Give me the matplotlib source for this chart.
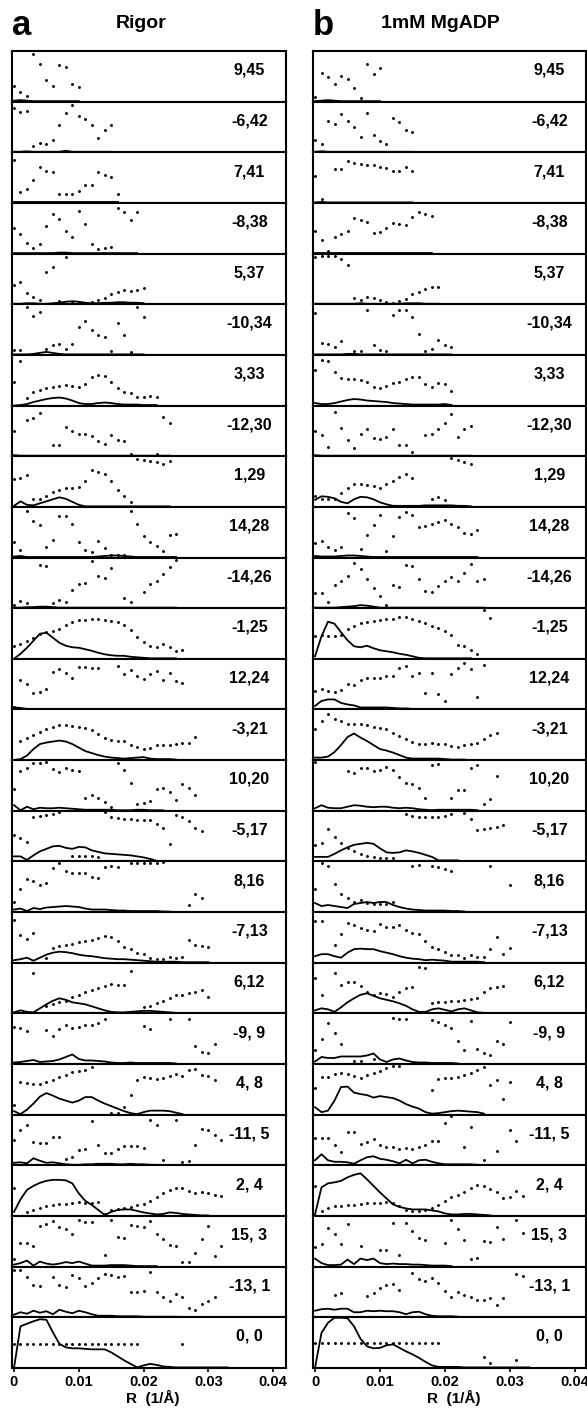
import numpy as np
import matplotlib.pyplot as plt

plt.rcParams['font.family'] = ['Liberation Sans', 'DejaVu Sans']

# sampled R values are spaced by this step (1/Å); values are % of panel height
R_STEP = 0.001

labels = ["9,45", "-6,42", "7,41", "-8,38", "5,37", "-10,34", "3,33", "-12,30",
          "1,29", "14,28", "-14,26", "-1,25", "12,24", "-3,21", "10,20", "-5,17",
          "8,16", "-7,13", "6,12", "-9, 9", "4, 8", "-11, 5", "2, 4", "15, 3",
          "-13, 1", "0, 0"]

# ---- a: Rigor ----
phase_a = [
    [31, 20, 11, 95, 75, 43, 32, 74, 70, 36, 30],
    [88, 80, 82, 12, 19, 16, 25, 54, 78, 95, 72, 66, 55, 28, 45, 55],
    [85, 22, 28, 45, 72, 64, 62, 18, 18, 18, 24, 36, 35, 62, 56, 52, 18],
    [52, 40, 22, 12, 20, 55, 79, 68, 45, 33, 84, 60, 20, 10, 11, 13, 90, 82, 67, 82],
    [39, 45, 23, 15, 9, 64, 75, 6, 95, 4, 3, 3, 4, 8, 13, 21, 25, 28, 27, 28, 33],
    [10, 9, 95, 77, 86, 12, 20, 21, 11, 22, 55, 68, 50, 39, 35, 7, 64, 40, 5, 95, 75],
    [47, 89, 16, 27, 32, 34, 36, 38, 40, 39, 37, 43, 57, 61, 58, 47, 35, 28, 26, 18, 17, 19, 18],
    [50, None, 72, 76, 86, None, 22, 23, 58, 50, 45, 45, 40, 30, 25, 42, 32, 30, 5, None, None, None, 4, 78, 66],
    [55, 58, 63, 15, 16, 22, 30, 34, 37, 38, 40, 51, 73, 70, 66, 51, 34, 22, 10, 96, 93, 91, 89, 86, 91],
    [31, 15, 93, 72, 65, 20, 35, 83, 82, 67, 30, 14, 10, 33, 18, 5, 4, 5, 93, 66, 42, 30, 22, 12, 45, 46],
    [7, 15, 10, None, 87, 85, 10, 17, 12, 36, 48, 50, 95, 65, 60, 80, None, 20, 12, None, 33, 48, 54, 68, 82, 97],
    [25, 30, 35, 42, 49, 53, 56, 59, 67, 74, 77, 78, 80, 79, 77, 76, 73, 68, 57, 44, 33, 25, 24, 30, 23, 16, 17],
    [4, 58, 50, 32, 35, 40, 75, 80, 73, 62, 84, 85, 83, 83, None, None, 86, 70, 78, 66, 60, 70, 76, 59, 72, 57, 52],
    [None, 38, 45, 51, 57, 62, 67, 69, 69, 68, 66, 65, 60, 52, 45, 40, 38, 38, 30, 26, 23, 25, 30, 30, 30, 32, 34, 34, 47],
    [44, 80, 85, 95, 95, 97, 84, 78, 86, 82, 80, 25, 32, 25, 17, 8, 95, 82, 55, 13, 16, 19, 44, 45, 37, 21, 54, 46, 32],
    [52, 47, 38, 88, 90, 92, 95, 98, None, 10, 11, 10, 10, 9, 98, 89, 86, 85, 85, 83, 82, 83, 75, 66, 35, 92, 88, 80, 66, 60],
    [21, 45, 66, 62, 53, 58, 87, 97, 82, 77, 78, 77, 70, 67, 90, 91, 90, None, 98, 97, 97, 97, 97, 99, None, None, None, 15, 35, 28],
    [85, 55, 48, 60, None, 10, 30, 33, 35, 38, 41, 43, 45, 49, 54, 52, 43, 32, 27, 20, 17, 10, 7, 8, 11, 9, 12, 45, 35, 33, 31],
    [None, None, None, 80, None, 15, 18, 22, 25, 32, 37, 43, 47, 50, 55, 58, 57, 56, 84, None, 12, 15, 20, 25, 30, 37, 36, 40, 43, 46, 32],
    [73, 72, 65, None, None, 67, 55, 70, 77, 72, 74, 78, 78, 82, 90, None, None, None, None, None, 75, 70, None, None, 89, None, None, 89, 35, 24, 21, 40],
    [20, 65, 63, 61, 62, 65, 70, 75, 80, 85, 87, 90, 95, None, None, 4, 3, 15, 40, 70, 75, 74, 72, 74, 77, 82, 78, 89, 91, 80, 77, 70],
    [51, 70, 80, 47, 45, 45, 57, 57, 13, 16, 30, 32, 88, 40, 24, 24, 32, 39, 38, 38, 35, 90, 80, 11, None, 90, 6, 8, 40, 72, 70, 60, 51],
    [56, None, 7, 12, 16, 20, 21, 23, 24, 25, 27, 26, 25, 28, 3, 11, 13, 15, 18, 21, 23, 30, 38, 46, 51, 56, 55, 49, 45, 47, 46, 41, 39],
    [15, 47, 48, 42, 80, 84, 90, 78, 74, 66, 93, 88, 88, None, 23, 93, 60, 58, 82, 80, 78, 90, 65, 56, 43, 41, 10, 10, 28, 55, 80, 21, 41],
    [94, 94, 80, 65, 62, None, 80, 65, 60, 84, 78, 62, 68, 78, 86, 85, 80, 83, 50, 51, 52, 91, 50, 40, 32, 47, 40, 18, 15, 26, 32, 40],
    [48, 48, 48, 48, 48, 48, 48, 48, 48, 48, 48, 48, 48, 48, 48, 48, 48, 48, 48, 48, None, None, None, None, None, None, 48],
]

amp_a = [
    [2, 3, 2, 1, 1, 1, 1, 1, 1, 1, 1],
    [1, 1, 2, 1, 1, 1, 1, 1, 3, 1, 1, 1, 1, 1, 1, 1],
    [1, 1, 1, 1, 1, 1, 1, 1, 1, 1, 1, 1, 1, 1, 1, 1, 1],
    [1, 1, 1, 1, 1, 1, 1, 2, 2, 1, 1, 1, 1, 1, 1, 1, 1, 1, 1, 1],
    [1, 1, 2, 2, 1, 1, 2, 3, 5, 6, 5, 3, 2, 2, 3, 3, 4, 4, 3, 3, 2],
    [1, 1, 1, 2, 4, 6, 4, 2, 1, 1, 1, 1, 1, 1, 1, 1, 1, 1, 1, 1, 1],
    [0, 1, 3, 7, 10, 13, 15, 16, 14, 10, 5, 3, 3, 5, 6, 5, 3, 2, 2, 2, 1, 1, 1],
    [2, 1, 1, 1, 1, 1, 1, 1, 1, 1, 1, 1, 1, 1, 1, 1, 1, 1, 1, 1, 1, 1, 1, 1, 1],
    [2, 11, 4, 3, 7, 11, 15, 19, 16, 10, 4, 1, 1, 1, 1, 1, 1, 1, 1, 1, 1, 1, 1, 1, 1],
    [2, 3, 1, 1, 1, 1, 1, 1, 1, 1, 1, 1, 1, 2, 3, 4, 4, 3, 2, 1, 1, 1, 1, 1, 1, 1],
    [1, 1, 2, 2, 3, 3, 2, 1, 1, 1, 1, 1, 1, 1, 1, 1, 1, 1, 1, 1, 1, 1, 1, 1, 1, 1],
    [0, 10, 22, 36, 50, 52, 42, 32, 26, 23, 22, 19, 16, 12, 9, 7, 6, 6, 4, 3, 2, 1, 1, 1, 1, 1],
    [4, 3, 1, 1, 1, 1, 1, 1, 1, 1, 1, 1, 1, 1, 1, 1, 1, 1, 1, 1, 1, 1, 1, 1, 1, 1, 1],
    [0, 2, 9, 22, 32, 35, 37, 39, 37, 32, 25, 18, 14, 10, 7, 5, 4, 3, 4, 5, 6, 3, 2, 2, 2, 1],
    [11, 1, 8, 3, 6, 5, 5, 6, 5, 4, 3, 2, 2, 2, 2, 2, 1, 1, 1, 2, 2, 1, 1, 1],
    [10, 10, 3, 12, 20, 25, 30, 31, 27, 25, 29, 28, 22, 19, 16, 15, 14, 13, 12, 10, 8, 5, 1, 1],
    [5, 7, 2, 8, 6, 9, 10, 11, 12, 11, 10, 7, 5, 5, 5, 4, 3, 3, 2, 2, 2, 2, 2, 1, 1],
    [5, 7, 10, 4, 10, 16, 20, 22, 21, 19, 16, 14, 13, 11, 9, 8, 7, 7, 6, 5, 4, 3, 2, 2, 2, 2, 1, 1, 1, 1, 1],
    [2, 6, 3, 2, 10, 18, 25, 30, 27, 22, 20, 18, 14, 10, 6, 3, 2, 2, 3, 4, 5, 5, 4, 3, 2, 1],
    [3, 4, 6, 8, 4, 5, 6, 9, 14, 19, 10, 7, 7, 6, 5, 3, 2, 2, 3, 2, 2, 2, 2, 2, 2, 1],
    [7, 1, 10, 22, 36, 43, 38, 32, 28, 24, 28, 35, 35, 28, 22, 17, 12, 7, 3, 1, 5, 8, 8, 8, 7, 4, 1],
    [5, 6, 4, 14, 9, 5, 6, 4, 2, 1, 1, 2, 2, 3, 3, 3, 2, 2, 3, 2, 2, 1, 1],
    [8, 33, 52, 60, 66, 70, 72, 72, 71, 65, 45, 30, 22, 12, 2, 8, 12, 13, 13, 10, 7, 5, 3, 4, 7, 6, 4, 3, 2, 1, 1],
    [4, 7, 12, 2, 10, 6, 4, 6, 9, 7, 10, 6, 2, 2, 2, 3, 3, 3, 2, 1, 1, 1, 1],
    [5, 10, 7, 13, 9, 12, 6, 15, 11, 8, 13, 10, 6, 3, 3, 3, 2, 2, 2, 2, 1, 1, 1, 1, 1, 1],
    [0, 83, 88, 93, 97, 96, 71, 48, 41, 39, 39, 38, 37, 37, 37, 31, 23, 15, 8, 1, 5, 8, 6, 3, 2, 1, 1, 1, 1, 1, 1, 1, 1, 1],
]

# ---- b: 1mM MgADP ----
phase_b = [
    [10, 58, 50, 35, 52, 45, 27, 7, 75, 55, 68],
    [24, 16, 62, 56, 77, 62, 50, 30, 78, 35, 23, 16, 68, 60, 45, 40],
    [53, 8, None, 67, 68, 83, 80, 77, 76, 75, 72, 70, 64, 64, 72, 64],
    [46, 28, 6, 33, 40, 46, 70, 67, 63, 42, 44, 52, 62, 59, 58, 72, 82, 79, 75],
    [95, 96, 97, 96, 90, 78, 12, 9, 15, 13, 9, 4, 3, 7, 10, 20, 25, 31, 34, 35],
    [83, 24, 22, 16, 28, None, 8, 8, 89, 20, 10, 7, 80, 89, 89, 75, 41, 8, 12, 30, 19, 16],
    [70, 90, 88, 67, 55, 52, 52, 51, 47, 36, 35, 38, 45, 46, 52, 56, 56, 42, 37, 44, 43, 30],
    [50, 42, 19, 88, 56, 33, 16, 45, 55, 37, 35, 38, 55, 22, 22, 9, None, 42, 45, 54, 66, 84, 38, 55, 61],
    [21, 16, 15, 16, 28, 37, 45, 45, 43, 41, 38, 46, 52, 60, 66, 58, None, None, 16, 20, 14, 97, 93, 90, 86],
    [28, 32, 21, 15, 20, 88, 78, 16, 44, 65, 85, 12, 42, 80, 90, 84, 60, 63, 67, 70, 75, 67, 60, 49, 46, 55],
    [30, 30, 13, 47, 55, 65, 90, 78, 59, 40, 24, 7, 47, 43, 86, 85, 59, 35, 32, 45, 55, 63, 55, 70, 88, 54, 58],
    [46, 48, 45, 46, 48, 59, 66, 72, 74, 76, 78, 80, 80, 83, 84, 79, 76, 72, 66, 62, 56, 47, 28, 25, 17, 10, 97, 82],
    [37, 40, 37, 35, 38, 50, 49, 58, 62, 62, 63, 66, 66, 82, 87, 67, 72, 32, 73, 30, 17, 70, 82, 93, 80, 25, 88],
    [62, 78, 92, 82, 77, 72, 72, 71, 69, 67, 65, 62, 55, 48, 42, 36, 33, 33, 34, 33, 32, 29, 27, 30, 32, 35, 43, 50, 54],
    [97, None, None, None, None, 80, 76, 85, 86, 80, 82, 87, 82, 68, 55, 54, 46, 25, 92, 93, None, 25, 42, 42, 85, 91, 13, 24, 69],
    [32, 37, 65, 48, 36, 26, 21, 14, 11, 9, 7, 6, 6, None, 94, 90, 88, 88, 88, 88, 90, 95, None, 97, 85, 62, 65, 66, 68, 72],
    [46, 97, 92, 55, 36, 28, 20, 25, 18, 16, 17, 16, 20, None, None, 91, 94, None, 92, 89, 86, 81, None, None, None, None, None, 91, None, None, 54],
    [83, 83, None, 35, 58, 80, 76, 70, 65, 63, 78, 72, 71, 76, 66, 60, 58, 43, 31, 27, 22, 15, 15, 10, 16, 11, 12, 28, 52, 17, 30],
    [70, 37, None, 80, 57, 62, 63, 55, 43, 37, 40, 39, 32, 43, 50, 53, 93, 90, 21, 22, 23, 24, 24, 26, 28, 31, 42, 50, 52, 54],
    [27, 49, 82, 62, 40, None, 6, 5, None, 10, None, None, 92, 89, 89, None, None, None, 87, 83, 77, 72, 45, 27, 85, 29, 22, 17, 45, 40, 84],
    [53, 76, 75, 81, 83, 81, 77, 74, 79, 83, 87, 93, 97, 97, None, None, None, None, 50, 71, 73, 74, 75, 79, 84, 89, 96, 59, 70, 31, 66],
    [55, 55, 55, 40, 26, 66, 66, 43, 46, 53, 40, 36, 37, 32, 34, 32, 36, 41, 49, 49, 84, 99, None, 36, 77, None, 10, None, 28, None, 70, 49],
    [60, 9, 15, 19, 20, 22, 22, 23, 25, 26, 26, 27, 26, 20, 11, 10, 9, 11, 15, 22, 29, 37, 42, 48, 55, 62, 60, 54, 48, 36, 38, 49, 40],
    [39, 45, 76, 65, 45, 84, None, 41, None, None, 33, 33, 87, 23, 87, 71, 57, 53, None, None, 48, 92, 75, 53, 16, 18, 52, 50, 78, 55, None, 92, 67],
    [None, None, None, 45, 48, None, None, None, 42, 48, 58, 64, 66, 55, None, 88, 76, 72, 79, 68, 52, 40, 50, 44, 41, 35, 35, 38, 25, 39, None, 87, 82],
    [50, 50, 50, 50, 50, 50, 50, 50, 50, 50, 50, 50, 50, 50, 50, 50, 50, 50, 50, 50, None, None, None, None, None, None, 22, 10, None, None, None, 15],
]

amp_b = [
    [1, 2, 3, 2, 1, 1, 1, 1, 1, 1, 1],
    [1, 2, 1, 1, 1, 1, 1, 1, 1, 1, 1, 1, 1, 1, 1, 1],
    [1, 2, 1, 1, 1, 1, 1, 1, 1, 1, 1, 1, 1, 1, 1, 1],
    [1, 1, 1, 1, 1, 1, 1, 1, 1, 1, 1, 1, 1, 1, 1, 1, 1, 1, 1],
    [1, 1, 1, 1, 1, 1, 1, 2, 1, 1, 1, 1, 1, 1, 2, 2, 2, 1, 1, 1],
    [1, 1, 1, 1, 1, 2, 2, 1, 1, 1, 1, 1, 1, 1, 1, 1, 1, 1, 1, 1, 1, 1],
    [5, 3, 3, 5, 8, 11, 13, 12, 10, 9, 8, 7, 5, 4, 3, 2, 2, 2, 2, 2, 3, 1],
    [2, 1, 1, 1, 1, 1, 1, 1, 1, 1, 1, 1, 1, 1, 1, 1, 1, 1, 1, 1, 1, 1, 1, 1, 1],
    [14, 21, 20, 17, 10, 7, 15, 20, 19, 15, 9, 5, 2, 2, 2, 2, 2, 3, 3, 3, 3, 3, 2, 2, 1],
    [3, 2, 2, 2, 3, 4, 4, 3, 2, 1, 1, 1, 1, 1, 1, 1, 1, 1, 1, 1, 1, 1, 1, 1, 1, 1],
    [1, 1, 1, 1, 2, 3, 4, 6, 5, 3, 1, 1, 1, 1, 1, 1, 1, 1, 1, 1, 1, 1, 1, 1, 1, 1, 1],
    [5, 45, 74, 70, 53, 37, 25, 23, 26, 21, 17, 15, 13, 10, 8, 5, 2, 1, 1, 1, 1, 1, 1, 1, 1],
    [7, 17, 20, 20, 13, 10, 8, 4, 4, 4, 4, 4, 3, 2, 2, 1, 1, 1, 1, 1, 1, 1],
    [5, 5, 7, 16, 30, 46, 53, 45, 38, 30, 22, 19, 15, 10, 5, 3, 3, 3, 3, 3, 2, 1, 1, 1],
    [5, 11, 6, 5, 5, 8, 11, 10, 8, 7, 8, 8, 6, 5, 6, 5, 3, 2, 1, 2, 2, 2, 2, 2, 2, 1],
    [9, 9, 9, 15, 22, 28, 33, 35, 37, 35, 26, 18, 17, 18, 22, 20, 17, 13, 9, 2, 2, 2, 2],
    [18, 12, 14, 12, 10, 8, 16, 18, 20, 18, 20, 20, 14, 10, 7, 5, 4, 3, 3, 3, 3, 2, 2, 1],
    [13, 17, 17, 13, 10, 20, 27, 28, 27, 27, 23, 20, 17, 13, 10, 8, 7, 5, 6, 5, 4, 2, 2, 2, 2, 2, 1],
    [6, 10, 8, 3, 12, 22, 30, 37, 40, 35, 30, 27, 24, 20, 15, 8, 3, 3, 8, 10, 7, 4, 8, 10, 6, 2, 1],
    [5, 14, 12, 12, 15, 15, 15, 15, 17, 21, 9, 4, 9, 11, 7, 4, 3, 3, 2, 2, 2, 2, 1],
    [15, 5, 8, 28, 55, 56, 44, 41, 39, 34, 37, 35, 33, 28, 21, 16, 12, 5, 2, 3, 5, 7, 8, 7, 6, 5, 2],
    [10, 22, 10, 7, 7, 6, 3, 10, 16, 18, 13, 11, 8, 4, 11, 4, 10, 11, 7, 4, 2, 2, 2, 2, 2, 1],
    [3, 57, 65, 67, 70, 77, 82, 85, 73, 60, 47, 35, 23, 18, 15, 13, 13, 13, 11, 9, 5, 3, 3, 4, 4, 3, 2, 1],
    [16, 7, 3, 3, 4, 14, 5, 16, 13, 16, 7, 5, 6, 5, 5, 4, 4, 3, 2, 2, 2, 1],
    [13, 16, 17, 15, 17, 17, 10, 10, 13, 12, 13, 12, 12, 10, 6, 10, 11, 6, 3, 2, 2, 2, 1],
    [0, 70, 90, 100, 100, 99, 83, 58, 43, 39, 40, 45, 47, 40, 33, 27, 20, 12, 5, 2, 2, 2, 2, 1, 1, 1, 1, 1, 1, 1, 1, 1, 1, 1],
]

xticks = [0, 0.01, 0.02, 0.03, 0.04]
xtick_labels = ["0", "0.01", "0.02", "0.03", "0.04"]

W, H = 587, 1412
fig = plt.figure(figsize=(W / 100, H / 100), dpi=100)

TOP = 51
PANEL_H = 50.65


def draw_column(x_left, width, x_zero, px_per_001, phases, amps):
    xmin = -(x_zero - x_left) / px_per_001 * 0.01
    xmax = (x_left + width - x_zero) / px_per_001 * 0.01
    n = len(labels)
    for i in range(n):
        top = TOP + i * PANEL_H
        ax = fig.add_axes([x_left / W, 1 - (top + PANEL_H) / H, width / W, PANEL_H / H])
        am = np.array(amps[i], dtype=float)
        ph = np.array(phases[i], dtype=float)
        ax.plot(np.arange(len(am)) * R_STEP, am, color='k', lw=1.3, zorder=2)
        ax.plot(np.arange(len(ph)) * R_STEP, ph, ls='none', marker='o', ms=2.1,
                mew=0, color='k', zorder=3)
        ax.set_xlim(xmin, xmax)
        ax.set_ylim(0, 101)
        ax.set_yticks([])
        for s in ax.spines.values():
            s.set_linewidth(1.5)
        ax.text(0.866, 0.62, labels[i], transform=ax.transAxes, ha='center',
                va='center', fontsize=11.5, fontweight='bold')
        if i == n - 1:
            ax.set_xticks(xticks)
            ax.set_xticklabels(xtick_labels, fontsize=10.5, fontweight='bold')
            ax.tick_params(axis='x', length=3, width=1.2, pad=2)
        else:
            ax.set_xticks([])
    cx = (x_left + width / 2) / W
    fig.text(cx + 4 / W, 1 - 1398 / H, "R  (1/Å)", ha='center', va='center',
             fontsize=11, fontweight='bold')


draw_column(12, 274, 14, 64.8, phase_a, amp_a)
draw_column(313, 273, 315, 65.0, phase_b, amp_b)

fig.text(12 / W, 1 - 35 / H, "a", fontsize=25, fontweight='bold', va='baseline')
fig.text(141 / W, 1 - 28 / H, "Rigor", fontsize=14, fontweight='bold',
         ha='center', va='baseline')
fig.text(313 / W, 1 - 35 / H, "b", fontsize=25, fontweight='bold', va='baseline')
fig.text(440 / W, 1 - 28 / H, "1mM MgADP", fontsize=14, fontweight='bold',
         ha='center', va='baseline')

fig.savefig("out.png", dpi=100)
